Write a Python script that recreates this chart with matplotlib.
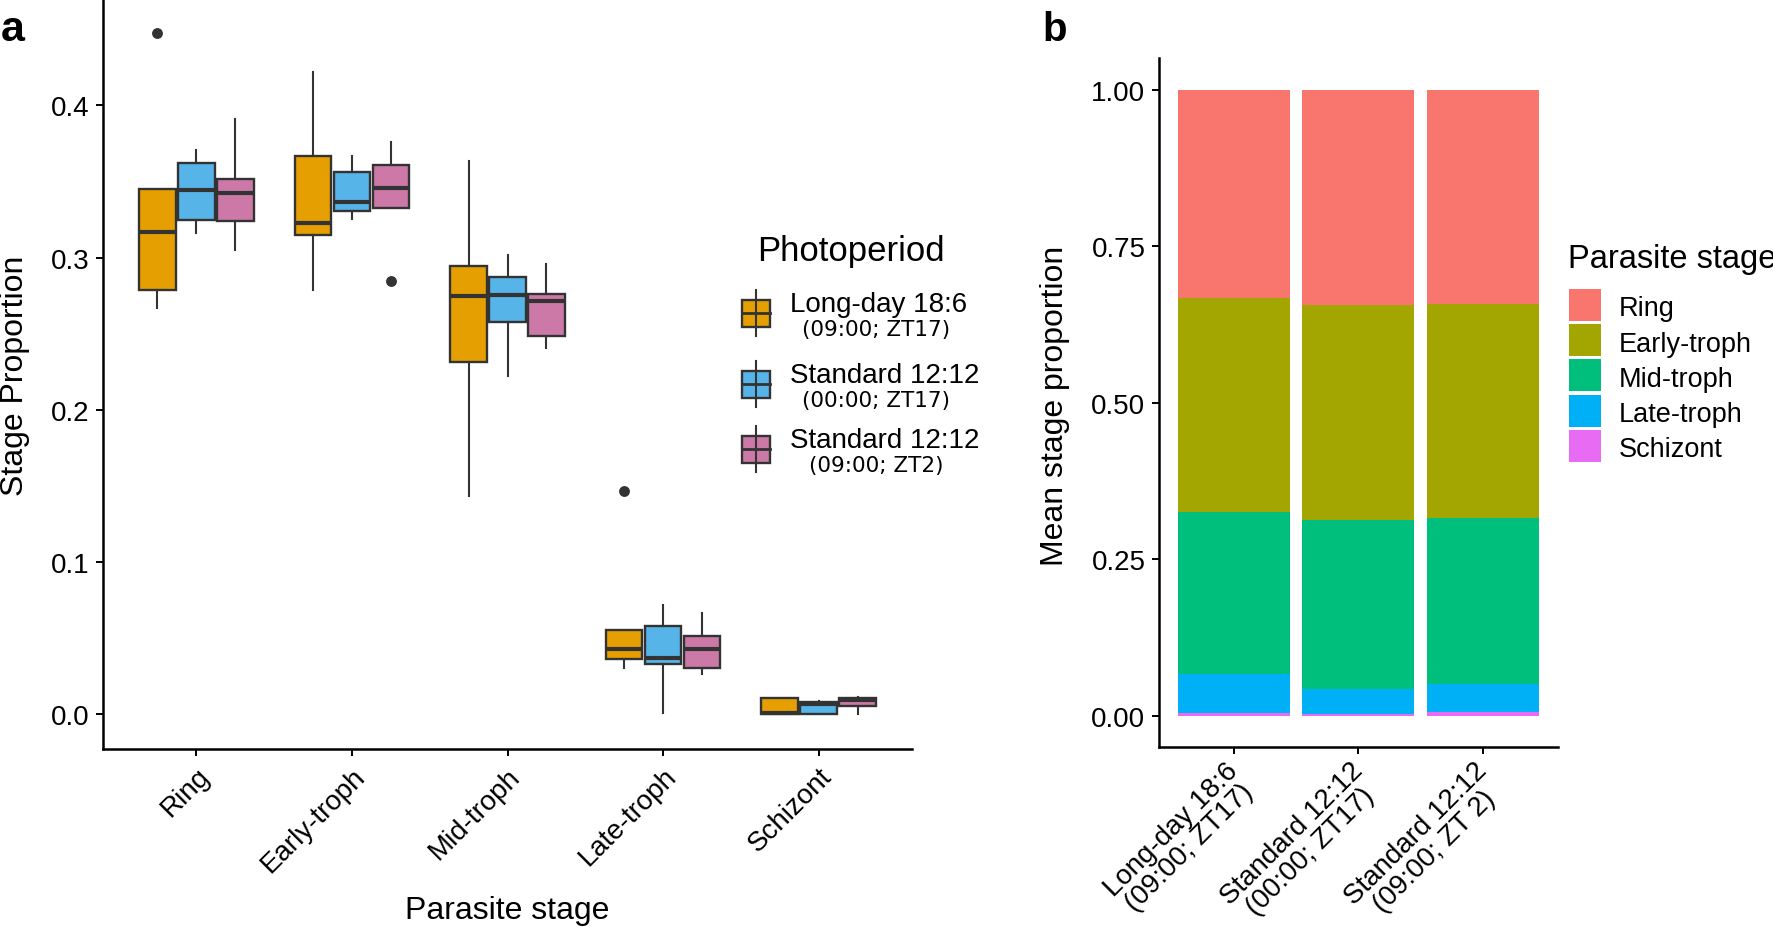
import numpy as np
import matplotlib.pyplot as plt
import matplotlib.transforms as mtransforms
from matplotlib.patches import Rectangle
from matplotlib.lines import Line2D

plt.rcParams['font.family'] = ['Liberation Sans', 'DejaVu Sans']

W, H = 1773, 928  # output size in pixels

# ---- panel a: box statistics, one value per stage ----
stages = ['Ring', 'Early-troph', 'Mid-troph', 'Late-troph', 'Schizont']

photo_main = ['Long-day 18:6', 'Standard 12:12', 'Standard 12:12']
photo_sub = ['(09:00; ZT17)', '(00:00; ZT17)', '(09:00; ZT2)']
photo_colors = ['#E69F00', '#56B4E9', '#CC79A7']

# Long-day 18:6 (09:00; ZT17)
ld_whislo = [0.267, 0.279, 0.1435, 0.0308, 0.0]
ld_q1 = [0.279, 0.315, 0.2314, 0.0362, 0.0]
ld_med = [0.317, 0.323, 0.275, 0.0432, 0.0008]
ld_q3 = [0.345, 0.367, 0.2948, 0.0555, 0.0107]
ld_whishi = [0.345, 0.422, 0.3638, 0.0555, 0.0107]
ld_fliers = [[0.4475], [], [], [0.147], []]

# Standard 12:12 (00:00; ZT17)
s0_whislo = [0.316, 0.3257, 0.2223, 0.0009, 0.0005]
s0_q1 = [0.325, 0.3306, 0.2576, 0.033, 0.0005]
s0_med = [0.3446, 0.3364, 0.2758, 0.0371, 0.0068]
s0_q3 = [0.362, 0.356, 0.2873, 0.058, 0.0081]
s0_whishi = [0.371, 0.367, 0.302, 0.0718, 0.009]
s0_fliers = [[], [], [], [], []]

# Standard 12:12 (09:00; ZT2)
s9_whislo = [0.305, 0.3324, 0.241, 0.0268, 0.0005]
s9_q1 = [0.324, 0.3324, 0.2485, 0.0308, 0.0058]
s9_med = [0.3425, 0.346, 0.2718, 0.0428, 0.0096]
s9_q3 = [0.352, 0.361, 0.2763, 0.0517, 0.0111]
s9_whishi = [0.391, 0.376, 0.296, 0.0668, 0.0115]
s9_fliers = [[], [0.285], [], [], []]

# ---- panel b: mean stage proportion per photoperiod ----
bar_labels = ['Long-day 18:6\n(09:00; ZT17)',
              'Standard 12:12\n(00:00; ZT17)',
              'Standard 12:12\n(09:00; ZT 2)']
ring_mean = [0.332, 0.344, 0.343]
early_mean = [0.342, 0.343, 0.341]
mid_mean = [0.260, 0.270, 0.266]
late_mean = [0.062, 0.040, 0.044]
schiz_mean = [0.004, 0.003, 0.006]
stage_colors = ['#F8766D', '#A3A500', '#00BF7D', '#00B0F6', '#E76BF3']

dark = '#333333'


def fx(px):
    return px / W


def fy(py):
    return 1 - py / H


fig = plt.figure(figsize=(W / 100, H / 100), dpi=100)
axA = fig.add_axes([fx(103), fy(749.6), fx(912 - 103), 749.6 / H])
axB = fig.add_axes([fx(1159.3), fy(748), fx(1557.5 - 1159.3), (748 - 59.4) / H])

for ax in (axA, axB):
    for s in ('top', 'right'):
        ax.spines[s].set_visible(False)
    for s in ('left', 'bottom'):
        ax.spines[s].set_linewidth(1.8)
    ax.tick_params(length=5, width=1.4, labelsize=20, pad=5, colors='black')

# Panel a boxplots
groups = [
    (ld_whislo, ld_q1, ld_med, ld_q3, ld_whishi, ld_fliers),
    (s0_whislo, s0_q1, s0_med, s0_q3, s0_whishi, s0_fliers),
    (s9_whislo, s9_q1, s9_med, s9_q3, s9_whishi, s9_fliers),
]
x = np.arange(1, len(stages) + 1)
for g, (lo, q1, med, q3, hi, fl) in enumerate(groups):
    stats = [dict(whislo=lo[i], q1=q1[i], med=med[i], q3=q3[i],
                  whishi=hi[i], fliers=fl[i]) for i in range(len(stages))]
    axA.bxp(stats, positions=x + (g - 1) * 0.25, widths=0.235,
            patch_artist=True, showcaps=False, manage_ticks=False,
            boxprops=dict(facecolor=photo_colors[g], edgecolor=dark, linewidth=1.7),
            medianprops=dict(color=dark, linewidth=3.0, solid_capstyle='butt'),
            whiskerprops=dict(color=dark, linewidth=1.5),
            flierprops=dict(marker='o', markerfacecolor=dark,
                            markeredgecolor=dark, markersize=6.8))

axA.set_xlim(0.4, 5.6)
axA.set_ylim(-0.0224, 0.4699)
axA.set_yticks([0, 0.1, 0.2, 0.3, 0.4])
axA.set_xticks(x)
axA.set_xticklabels(stages, rotation=45, ha='right', va='top',
                    rotation_mode='anchor', fontsize=20)

# Panel b stacked bars
xb = np.arange(1, len(bar_labels) + 1)
bottom = np.zeros(len(bar_labels))
for vals, col in zip([schiz_mean, late_mean, mid_mean, early_mean, ring_mean],
                     stage_colors[::-1]):
    axB.bar(xb, vals, bottom=bottom, width=0.9, color=col, edgecolor='none')
    bottom = bottom + np.array(vals)

axB.set_xlim(0.4, 3.6)
axB.set_ylim(-0.05, 1.05)
axB.set_yticks([0, 0.25, 0.5, 0.75, 1.0])
axB.set_yticklabels(['0.00', '0.25', '0.50', '0.75', '1.00'])
axB.set_xticks(xb)
axB.set_xticklabels(bar_labels, rotation=45, ha='right', va='top',
                    rotation_mode='anchor', multialignment='center',
                    fontsize=20, linespacing=1.0)
shiftB = mtransforms.ScaledTranslation(-0.09, 0.04, fig.dpi_scale_trans)
for lab in axB.get_xticklabels():
    lab.set_transform(lab.get_transform() + shiftB)

# Axis titles and panel letters
fig.text(fx(507.5), fy(919), 'Parasite stage', fontsize=23, ha='center', va='baseline')
fig.text(fx(15), fy(376), 'Stage Proportion', fontsize=23, rotation=90,
         ha='center', va='center')
fig.text(fx(1055), fy(406), 'Mean stage proportion', fontsize=23, rotation=90,
         ha='center', va='center')
fig.text(fx(1), fy(41), 'a', fontsize=31, fontweight='bold', ha='left', va='baseline')
fig.text(fx(1042), fy(41), 'b', fontsize=29, fontweight='bold', ha='left', va='baseline')

# Panel a legend (box glyphs with two-line labels)
fig.text(fx(757), fy(261), 'Photoperiod', fontsize=25, ha='left', va='baseline')
key_centers = [314, 385, 450]
for col, main, sub, cy in zip(photo_colors, photo_main, photo_sub, key_centers):
    fig.add_artist(Line2D([fx(756), fx(756)], [fy(cy - 23), fy(cy + 23)],
                          color=dark, lw=1.5, transform=fig.transFigure))
    fig.add_artist(Rectangle((fx(742), fy(cy + 13.5)), fx(28), 27 / H,
                             facecolor=col, edgecolor=dark, lw=1.7,
                             transform=fig.transFigure))
    fig.add_artist(Line2D([fx(742), fx(770)], [fy(cy), fy(cy)],
                          color=dark, lw=2.0, transform=fig.transFigure))
    fig.text(fx(790), fy(cy - 2), main, fontsize=20, ha='left', va='baseline')
    fig.text(fx(876), fy(cy + 22), sub, fontsize=15.5, family='DejaVu Sans',
             ha='center', va='baseline')

# Panel b legend
fig.text(fx(1568), fy(268), 'Parasite stage', fontsize=23.5, ha='left', va='baseline')
for i, (name, col) in enumerate(zip(stages, stage_colors)):
    top = 290 + i * 35.2
    fig.add_artist(Rectangle((fx(1569), fy(top + 32)), fx(32), 32 / H,
                             facecolor=col, edgecolor='none',
                             transform=fig.transFigure))
    fig.text(fx(1619), fy(top + 26.5), name, fontsize=19.5, ha='left', va='baseline')

fig.savefig('out.png', dpi=100)
